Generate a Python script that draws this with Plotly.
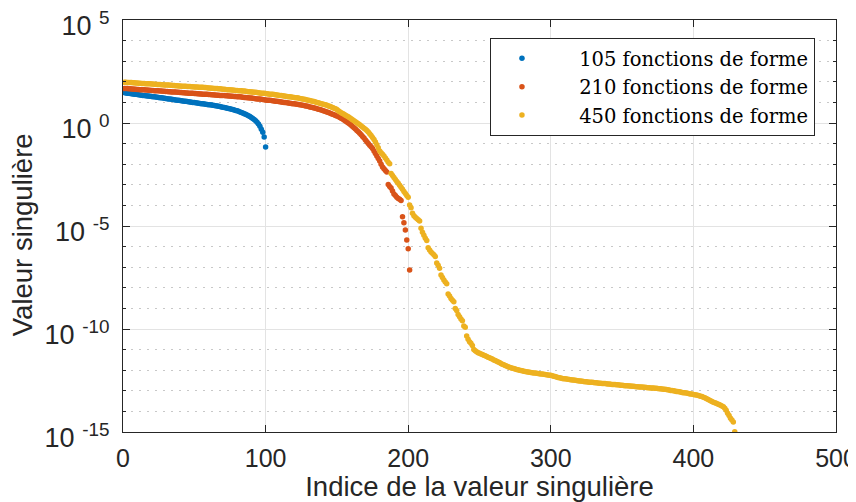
import numpy as np
import plotly.graph_objects as go

# log10 of singular values (index 1..n)
blue_log10 = [
    1.48, 1.46, 1.45, 1.44, 1.43, 1.42, 1.41, 1.40, 1.39, 1.38,
    1.37, 1.36, 1.35, 1.34, 1.33, 1.32, 1.31, 1.31, 1.30, 1.29,
    1.28, 1.27, 1.26, 1.25, 1.24, 1.23, 1.22, 1.21, 1.20, 1.19,
    1.18, 1.17, 1.16, 1.15, 1.14, 1.13, 1.12, 1.11, 1.10, 1.09,
    1.08, 1.07, 1.06, 1.05, 1.04, 1.03, 1.02, 1.01, 1.00, 0.99,
    0.98, 0.97, 0.96, 0.95, 0.94, 0.93, 0.92, 0.91, 0.90, 0.89,
    0.88, 0.87, 0.86, 0.85, 0.84, 0.83, 0.81, 0.80, 0.78, 0.77,
    0.75, 0.74, 0.72, 0.70, 0.69, 0.67, 0.65, 0.63, 0.61, 0.59,
    0.57, 0.54, 0.51, 0.48, 0.45, 0.42, 0.39, 0.35, 0.31, 0.27,
    0.22, 0.17, 0.11, 0.04, -0.05, -0.16, -0.30, -0.45, -0.68, -1.17,
]

red_log10 = [
    1.68, 1.67, 1.67, 1.66, 1.66, 1.65, 1.65, 1.64, 1.64, 1.63,
    1.63, 1.62, 1.62, 1.61, 1.61, 1.60, 1.60, 1.59, 1.59, 1.58,
    1.58, 1.57, 1.57, 1.56, 1.56, 1.55, 1.55, 1.54, 1.54, 1.53,
    1.53, 1.52, 1.52, 1.51, 1.51, 1.50, 1.50, 1.49, 1.49, 1.48,
    1.48, 1.47, 1.47, 1.46, 1.46, 1.45, 1.45, 1.44, 1.44, 1.43,
    1.43, 1.42, 1.42, 1.41, 1.41, 1.40, 1.40, 1.39, 1.39, 1.38,
    1.38, 1.37, 1.37, 1.36, 1.36, 1.35, 1.35, 1.34, 1.34, 1.33,
    1.33, 1.32, 1.32, 1.31, 1.31, 1.30, 1.30, 1.29, 1.29, 1.28,
    1.27, 1.27, 1.26, 1.25, 1.24, 1.24, 1.23, 1.22, 1.21, 1.21,
    1.20, 1.19, 1.18, 1.17, 1.17, 1.16, 1.15, 1.14, 1.13, 1.12,
    1.11, 1.10, 1.10, 1.09, 1.08, 1.07, 1.06, 1.05, 1.04, 1.03,
    1.02, 1.01, 1.00, 0.99, 0.98, 0.97, 0.96, 0.95, 0.94, 0.93,
    0.92, 0.91, 0.90, 0.88, 0.87, 0.86, 0.85, 0.83, 0.82, 0.80,
    0.78, 0.77, 0.75, 0.73, 0.71, 0.69, 0.67, 0.65, 0.63, 0.61,
    0.58, 0.56, 0.53, 0.51, 0.48, 0.45, 0.43, 0.40, 0.37, 0.34,
    0.31, 0.27, 0.23, 0.19, 0.15, 0.10, 0.05, 0.00, -0.05, -0.11,
    -0.17, -0.23, -0.29, -0.36, -0.43, -0.50, -0.57, -0.65, -0.73, -0.82,
    -0.91, -1.00, -1.08, -1.15, -1.24, -1.36, -1.48, -1.60, -1.72, -1.84,
    -2.00, -2.14, -2.22, -2.30, -2.38, -2.98, -3.08, -3.16, -3.30, -3.45,
    -3.52, -3.60, -3.66, -3.70, -3.76, -4.55, -4.84, -5.19, -5.68, -6.10,
    -7.14,
]

yellow_log10 = [
    1.98, 1.98, 1.97, 1.97, 1.96, 1.96, 1.95, 1.95, 1.94, 1.94,
    1.93, 1.93, 1.92, 1.92, 1.92, 1.91, 1.91, 1.90, 1.90, 1.89,
    1.89, 1.88, 1.88, 1.87, 1.87, 1.87, 1.86, 1.86, 1.85, 1.85,
    1.84, 1.84, 1.83, 1.83, 1.82, 1.82, 1.81, 1.81, 1.80, 1.80,
    1.79, 1.79, 1.78, 1.78, 1.77, 1.77, 1.77, 1.76, 1.76, 1.75,
    1.75, 1.75, 1.74, 1.74, 1.73, 1.73, 1.72, 1.72, 1.71, 1.70,
    1.70, 1.69, 1.69, 1.68, 1.67, 1.67, 1.66, 1.66, 1.65, 1.64,
    1.64, 1.63, 1.62, 1.62, 1.61, 1.60, 1.60, 1.59, 1.58, 1.58,
    1.57, 1.56, 1.56, 1.55, 1.55, 1.54, 1.53, 1.52, 1.52, 1.51,
    1.50, 1.49, 1.49, 1.48, 1.47, 1.46, 1.45, 1.45, 1.44, 1.43,
    1.42, 1.41, 1.40, 1.40, 1.39, 1.38, 1.37, 1.36, 1.35, 1.34,
    1.33, 1.32, 1.31, 1.30, 1.29, 1.28, 1.27, 1.26, 1.25, 1.24,
    1.23, 1.22, 1.21, 1.19, 1.18, 1.17, 1.15, 1.14, 1.12, 1.11,
    1.09, 1.07, 1.05, 1.04, 1.02, 1.00, 0.98, 0.96, 0.94, 0.92,
    0.90, 0.88, 0.86, 0.83, 0.81, 0.78, 0.75, 0.72, 0.69, 0.65,
    0.60, 0.55, 0.50, 0.46, 0.42, 0.38, 0.34, 0.30, 0.25, 0.21,
    0.16, 0.11, 0.06, 0.01, -0.04, -0.09, -0.14, -0.19, -0.25, -0.30,
    -0.36, -0.44, -0.52, -0.61, -0.70, -0.80, -0.92, -1.05, -1.20, -1.36,
    -1.45, -1.52, -1.60, -1.70, -1.80, -1.90, -1.98, -2.45, -2.55, -2.64,
    -2.74, -2.84, -2.93, -3.02, -3.12, -3.22, -3.32, -3.42, -3.52, -3.60,
    -3.98, -4.12, -4.38, -4.50, -4.58, -4.64, -4.70, -4.76, -5.11, -5.30,
    -5.45, -5.60, -5.70, -6.05, -6.17, -6.26, -6.33, -6.40, -6.48, -6.80,
    -6.90, -7.05, -7.38, -7.50, -7.62, -7.72, -7.80, -8.30, -8.40, -8.52,
    -8.60, -8.68, -9.00, -9.10, -9.30, -9.40, -9.52, -9.60, -9.85, -9.92,
    -10.34, -10.50, -10.62, -10.69, -10.80, -11.00, -11.05, -11.10, -11.15, -11.18,
    -11.21, -11.24, -11.27, -11.30, -11.34, -11.37, -11.40, -11.43, -11.46, -11.50,
    -11.53, -11.56, -11.60, -11.63, -11.67, -11.71, -11.74, -11.77, -11.80, -11.83,
    -11.86, -11.88, -11.90, -11.92, -11.94, -11.96, -11.98, -12.00, -12.02, -12.03,
    -12.05, -12.06, -12.08, -12.09, -12.10, -12.11, -12.12, -12.13, -12.14, -12.15,
    -12.16, -12.17, -12.18, -12.19, -12.20, -12.21, -12.22, -12.23, -12.24, -12.25,
    -12.27, -12.29, -12.31, -12.33, -12.35, -12.37, -12.38, -12.40, -12.41, -12.42,
    -12.43, -12.44, -12.45, -12.46, -12.47, -12.48, -12.49, -12.50, -12.51, -12.52,
    -12.53, -12.54, -12.55, -12.56, -12.56, -12.57, -12.58, -12.59, -12.59, -12.60,
    -12.61, -12.61, -12.62, -12.63, -12.63, -12.64, -12.65, -12.65, -12.66, -12.67,
    -12.67, -12.68, -12.69, -12.69, -12.70, -12.71, -12.71, -12.72, -12.73, -12.73,
    -12.74, -12.75, -12.75, -12.76, -12.77, -12.77, -12.78, -12.78, -12.79, -12.80,
    -12.80, -12.81, -12.81, -12.82, -12.83, -12.83, -12.84, -12.85, -12.85, -12.86,
    -12.86, -12.87, -12.88, -12.88, -12.89, -12.90, -12.90, -12.91, -12.92, -12.92,
    -12.94, -12.95, -12.96, -12.98, -12.99, -13.00, -13.01, -13.03, -13.04, -13.05,
    -13.06, -13.08, -13.09, -13.10, -13.11, -13.12, -13.14, -13.15, -13.16, -13.18,
    -13.19, -13.20, -13.22, -13.24, -13.26, -13.28, -13.31, -13.34, -13.37, -13.41,
    -13.45, -13.48, -13.52, -13.55, -13.58, -13.61, -13.64, -13.67, -13.70, -13.74,
    -13.78, -13.85, -13.95, -14.09, -14.20, -14.33, -14.42, -14.52, -14.99,
]

series_names = ["105 fonctions de forme", "210 fonctions de forme", "450 fonctions de forme"]
series_colors = ["#0072BD", "#D95319", "#EDB120"]
series_data = [blue_log10, red_log10, yellow_log10]

x_tick_vals = [0, 100, 200, 300, 400, 500]
y_major_exps = [-15, -10, -5, 0, 5]
y_major_text = ["10\u00a0<sup>-15</sup>", "10\u00a0<sup>-10</sup>", "10\u00a0<sup>-5</sup>",
                "10\u00a0<sup>0</sup>", "10\u00a0<sup>5</sup>"]
y_minor_exps = list(range(-15, 6))
x_title = "Indice de la valeur singulière"
y_title = "Valeur singulière"

AX = "#262626"
GRID = "#e3e3e3"
SANS = "Liberation Sans, Arial, sans-serif"

fig = go.Figure()
for name, color, logs in zip(series_names, series_colors, series_data):
    idx = np.arange(1, len(logs) + 1)
    fig.add_trace(go.Scatter(
        x=idx, y=10.0 ** np.array(logs), mode="markers", name="\u00a0" * 6 + name,
        marker=dict(color=color, size=5.5, line=dict(width=0)),
    ))

# the page body adds an 8px offset, so the figure is drawn 848x494
fig.update_layout(
    width=848, height=494,
    margin=dict(l=115, r=20, t=12, b=70),
    paper_bgcolor="white", plot_bgcolor="white",
    font=dict(family=SANS, size=25, color=AX),
    showlegend=True,
    legend=dict(
        x=0.9705, y=0.956, xanchor="right", yanchor="top",
        bgcolor="white", bordercolor=AX, borderwidth=1,
        font=dict(family="DejaVu Serif, serif", size=19.5, color="black"),
        itemsizing="trace", tracegroupgap=0, indentation=11,
    ),
    annotations=[dict(
        text=y_title, xref="paper", yref="paper", x=-0.1417, y=0.48,
        xanchor="center", yanchor="middle", textangle=-90, showarrow=False,
        font=dict(family=SANS, size=27.5, color=AX),
    )],
)

fig.update_xaxes(
    range=[0, 500], tickmode="array", tickvals=x_tick_vals, automargin=False,
    ticks="inside", ticklen=7, tickcolor=AX, tickwidth=1, ticklabelstandoff=4,
    ticklabeloverflow="allow",
    showline=True, linecolor=AX, linewidth=1.3, mirror="ticks",
    showgrid=True, gridcolor=GRID, gridwidth=1, zeroline=False,
    tickfont=dict(family=SANS, size=25, color=AX),
    title=dict(text=x_title, font=dict(family=SANS, size=27.5, color=AX), standoff=2),
)

fig.update_yaxes(
    type="log", range=[-15, 5], tickmode="array", automargin=False,
    tickvals=[10.0 ** e for e in y_major_exps], ticktext=y_major_text,
    ticks="inside", ticklen=7, tickcolor=AX, tickwidth=1, ticklabelstandoff=7,
    ticklabelshift=6, ticklabeloverflow="allow",
    showline=True, linecolor=AX, linewidth=1.3, mirror="ticks",
    showgrid=True, gridcolor=GRID, gridwidth=1, zeroline=False,
    tickfont=dict(family=SANS, size=27, color=AX),
    minor=dict(tickmode="array", tickvals=[10.0 ** e for e in y_minor_exps],
               ticks="inside", ticklen=3, tickcolor=AX,
               showgrid=True, gridcolor="#c8c8c8", griddash="2px,6px", gridwidth=1),
)

fig.write_html("out.html")
